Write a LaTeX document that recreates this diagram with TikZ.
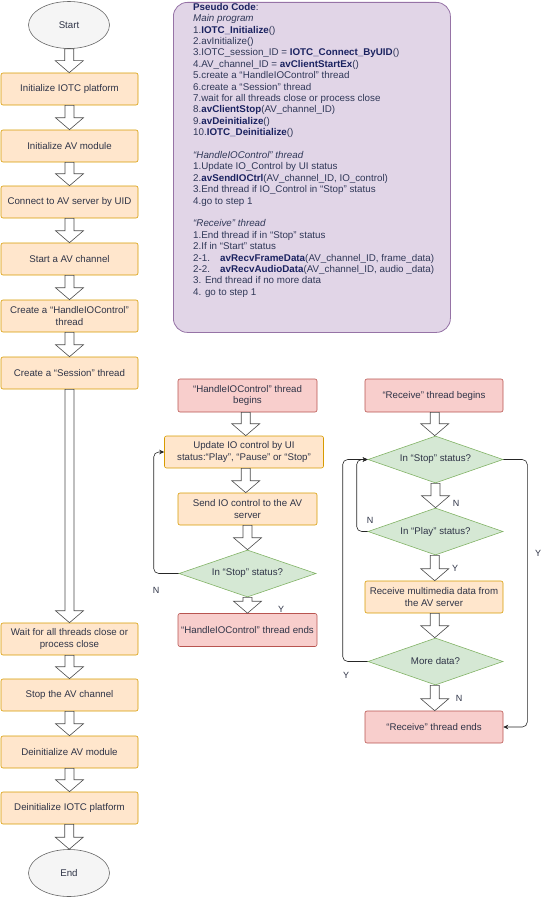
\documentclass[tikz,border=0pt]{standalone}
\usepackage{fontspec}
\setmainfont{Liberation Sans}
\usetikzlibrary{shapes.geometric,arrows.meta,calc}

\definecolor{orfill}{HTML}{FFE6CC}
\definecolor{ordraw}{HTML}{D79B00}
\definecolor{redfill}{HTML}{F8CECC}
\definecolor{reddraw}{HTML}{B85450}
\definecolor{grfill}{HTML}{D5E8D4}
\definecolor{grdraw}{HTML}{82B366}
\definecolor{pufill}{HTML}{E1D5E7}
\definecolor{pudraw}{HTML}{9673A6}
\definecolor{elfill}{HTML}{F5F5F5}
\definecolor{eldraw}{HTML}{666666}
\definecolor{txt}{HTML}{2F3447}
\definecolor{codetxt}{HTML}{303858}
\definecolor{codebold}{HTML}{1A2260}

\tikzset{
  boxfont/.style={font=\fontsize{9.7}{11.5}\selectfont, text=txt},
  proc/.style={boxfont, draw=ordraw, fill=orfill, rounded corners=2pt, line width=0.6pt,
    minimum width=137pt, minimum height=32pt, align=center, inner sep=1pt},
  term/.style={boxfont, draw=reddraw, fill=redfill, rounded corners=2pt, line width=0.6pt,
    minimum width=139pt, minimum height=33pt, align=center, inner sep=1pt},
  ask/.style={boxfont, diamond, aspect=2.9, draw=grdraw, fill=grfill, line width=0.6pt,
    minimum width=137pt, minimum height=47pt, inner sep=0pt},
  oval/.style={boxfont, ellipse, draw=eldraw, fill=elfill, line width=0.6pt,
    minimum width=81pt, minimum height=47pt},
  hollow/.style={draw=black!70, fill=white, line width=0.6pt, line join=miter},
  back/.style={draw=black!85, line width=0.6pt, rounded corners=5pt, -{Stealth[length=5pt,width=4.5pt]}},
  lab/.style={font=\fontsize{9}{10}\selectfont, text=txt, inner sep=0pt},
  codebox/.style={draw=pudraw, fill=pufill, rounded corners=14pt, line width=0.8pt},
  codetext/.style={font=\fontsize{9.8}{11.4}\selectfont, text=codetxt, align=left, inner sep=0pt}
}

\newcommand{\fn}[1]{\textcolor{codebold}{\textbf{#1}}}
\newcommand{\flowto}[2]{%
  \draw[hollow] let \p1=(#1.south), \p2=(#2.north), \n1={(\x1+\x2)/2} in
    (\n1-4.5pt,\y1) -- (\n1+4.5pt,\y1) -- (\n1+4.5pt,\y2+12pt) -- (\n1+14pt,\y2+12pt)
    -- (\n1,\y2) -- (\n1-14pt,\y2+12pt) -- (\n1-4.5pt,\y2+12pt) -- cycle;}

\begin{document}
\begin{tikzpicture}[x=1pt,y=-1pt]
\useasboundingbox (0,0) rectangle (551,899);

\node[codebox, anchor=north west, minimum width=277pt, minimum height=330pt] (pseudo) at (173,2) {};
\node[codetext, anchor=north west] (pseudotext) at (193,3) {%
\fn{Pseudo Code}:\\
\textit{Main program}\\
1.\fn{IOTC\_Initialize}()\\
2.avInitialize()\\
3.IOTC\_session\_ID = \fn{IOTC\_Connect\_ByUID}()\\
4.AV\_channel\_ID = \fn{avClientStartEx}()\\
5.create a “HandleIOControl” thread\\
6.create a “Session” thread\\
7.wait for all threads close or process close\\
8.\fn{avClientStop}(AV\_channel\_ID)\\
9.\fn{avDeinitialize}()\\
10.\fn{IOTC\_Deinitialize}()\\[11.4pt]
\textit{“HandleIOControl” thread}\\
1.Update IO\_Control by UI status\\
2.\fn{avSendIOCtrl}(AV\_channel\_ID, IO\_control)\\
3.End thread if IO\_Control in “Stop” status\\
4.go to step 1\\[11.4pt]
\textit{“Receive” thread}\\
1.End thread if in “Stop” status\\
2.If in “Start” status\\
\makebox[27pt][l]{2-1.}\fn{avRecvFrameData}(AV\_channel\_ID, frame\_data)\\
\makebox[27pt][l]{2-2.}\fn{avRecvAudioData}(AV\_channel\_ID, audio \_data)\\
3. End thread if no more data\\
4. go to step 1};

\node[oval] (start) at (69,25) {Start};
\node[proc] (initiotc) at (69.5,89) {Initialize IOTC platform};
\node[proc] (initav) at (69.5,146) {Initialize AV module};
\node[proc] (connect) at (69.5,202) {Connect to AV server by UID};
\node[proc] (startch) at (69.5,259) {Start a AV channel};
\node[proc] (createhio) at (69.5,316) {Create a “HandleIOControl”\\thread};
\node[proc] (createsess) at (69.5,373) {Create a “Session” thread};
\node[proc] (waitall) at (69.5,639) {Wait for all threads close or\\process close};
\node[proc] (stopch) at (69.5,695) {Stop the AV channel};
\node[proc] (deinitav) at (69.5,752) {Deinitialize AV module};
\node[proc] (deinitiotc) at (69.5,808) {Deinitialize IOTC platform};
\node[oval] (finish) at (69,873) {End};

\flowto{start}{initiotc}
\flowto{initiotc}{initav}
\flowto{initav}{connect}
\flowto{connect}{startch}
\flowto{startch}{createhio}
\flowto{createhio}{createsess}
\flowto{createsess}{waitall}
\flowto{waitall}{stopch}
\flowto{stopch}{deinitav}
\flowto{deinitav}{deinitiotc}
\flowto{deinitiotc}{finish}

\node[term] (hiobegin) at (247.5,395.5) {“HandleIOControl” thread\\begins};
\node[proc, minimum width=159pt] (update) at (244,452) {Update IO control by UI\\status:“Play”, “Pause” or “Stop”};
\node[proc, minimum width=139pt] (sendio) at (247.5,509) {Send IO control to the AV\\server};
\node[ask] (hiostop) at (247.5,573.5) {In “Stop” status?};
\node[term] (hioend) at (247.5,630) {“HandleIOControl” thread ends};

\flowto{hiobegin}{update}
\flowto{update}{sendio}
\flowto{sendio}{hiostop}
\flowto{hiostop}{hioend}
\draw[back] (hiostop.west) -- ++(-25,0) |- (update.west);
\node[lab] (hion) at (156,590) {N};
\node[lab] (hioy) at (281,609) {Y};

\node[term, minimum width=138pt] (recvbegin) at (434,395.5) {“Receive” thread begins};
\node[ask, minimum width=135pt] (stopq) at (435.5,459.5) {In “Stop” status?};
\node[ask, minimum width=135pt] (playq) at (435.5,531.5) {In “Play” status?};
\node[proc, minimum width=138pt] (recvdata) at (434,597) {Receive multimedia data from\\the AV server};
\node[ask, minimum width=135pt] (moreq) at (435.5,661.5) {More data?};
\node[term, minimum width=138pt, minimum height=32pt] (recvend) at (434,727) {“Receive” thread ends};

\flowto{recvbegin}{stopq}
\flowto{stopq}{playq}
\flowto{playq}{recvdata}
\flowto{recvdata}{moreq}
\flowto{moreq}{recvend}
\draw[back] (playq.west) -- ++(-11,0) |- (stopq.west);
\draw[back] (moreq.west) -- ++(-25,0) |- (stopq.west);
\draw[back] (stopq.east) -- ++(24,0) |- (recvend.east);
\node[lab] (stopn) at (456,503) {N};
\node[lab] (playn) at (370,520) {N};
\node[lab] (stopy) at (538,553) {Y};
\node[lab] (playy) at (455,568) {Y};
\node[lab] (morey) at (346,675) {Y};
\node[lab] (moren) at (459,698) {N};
\end{tikzpicture}
\end{document}
